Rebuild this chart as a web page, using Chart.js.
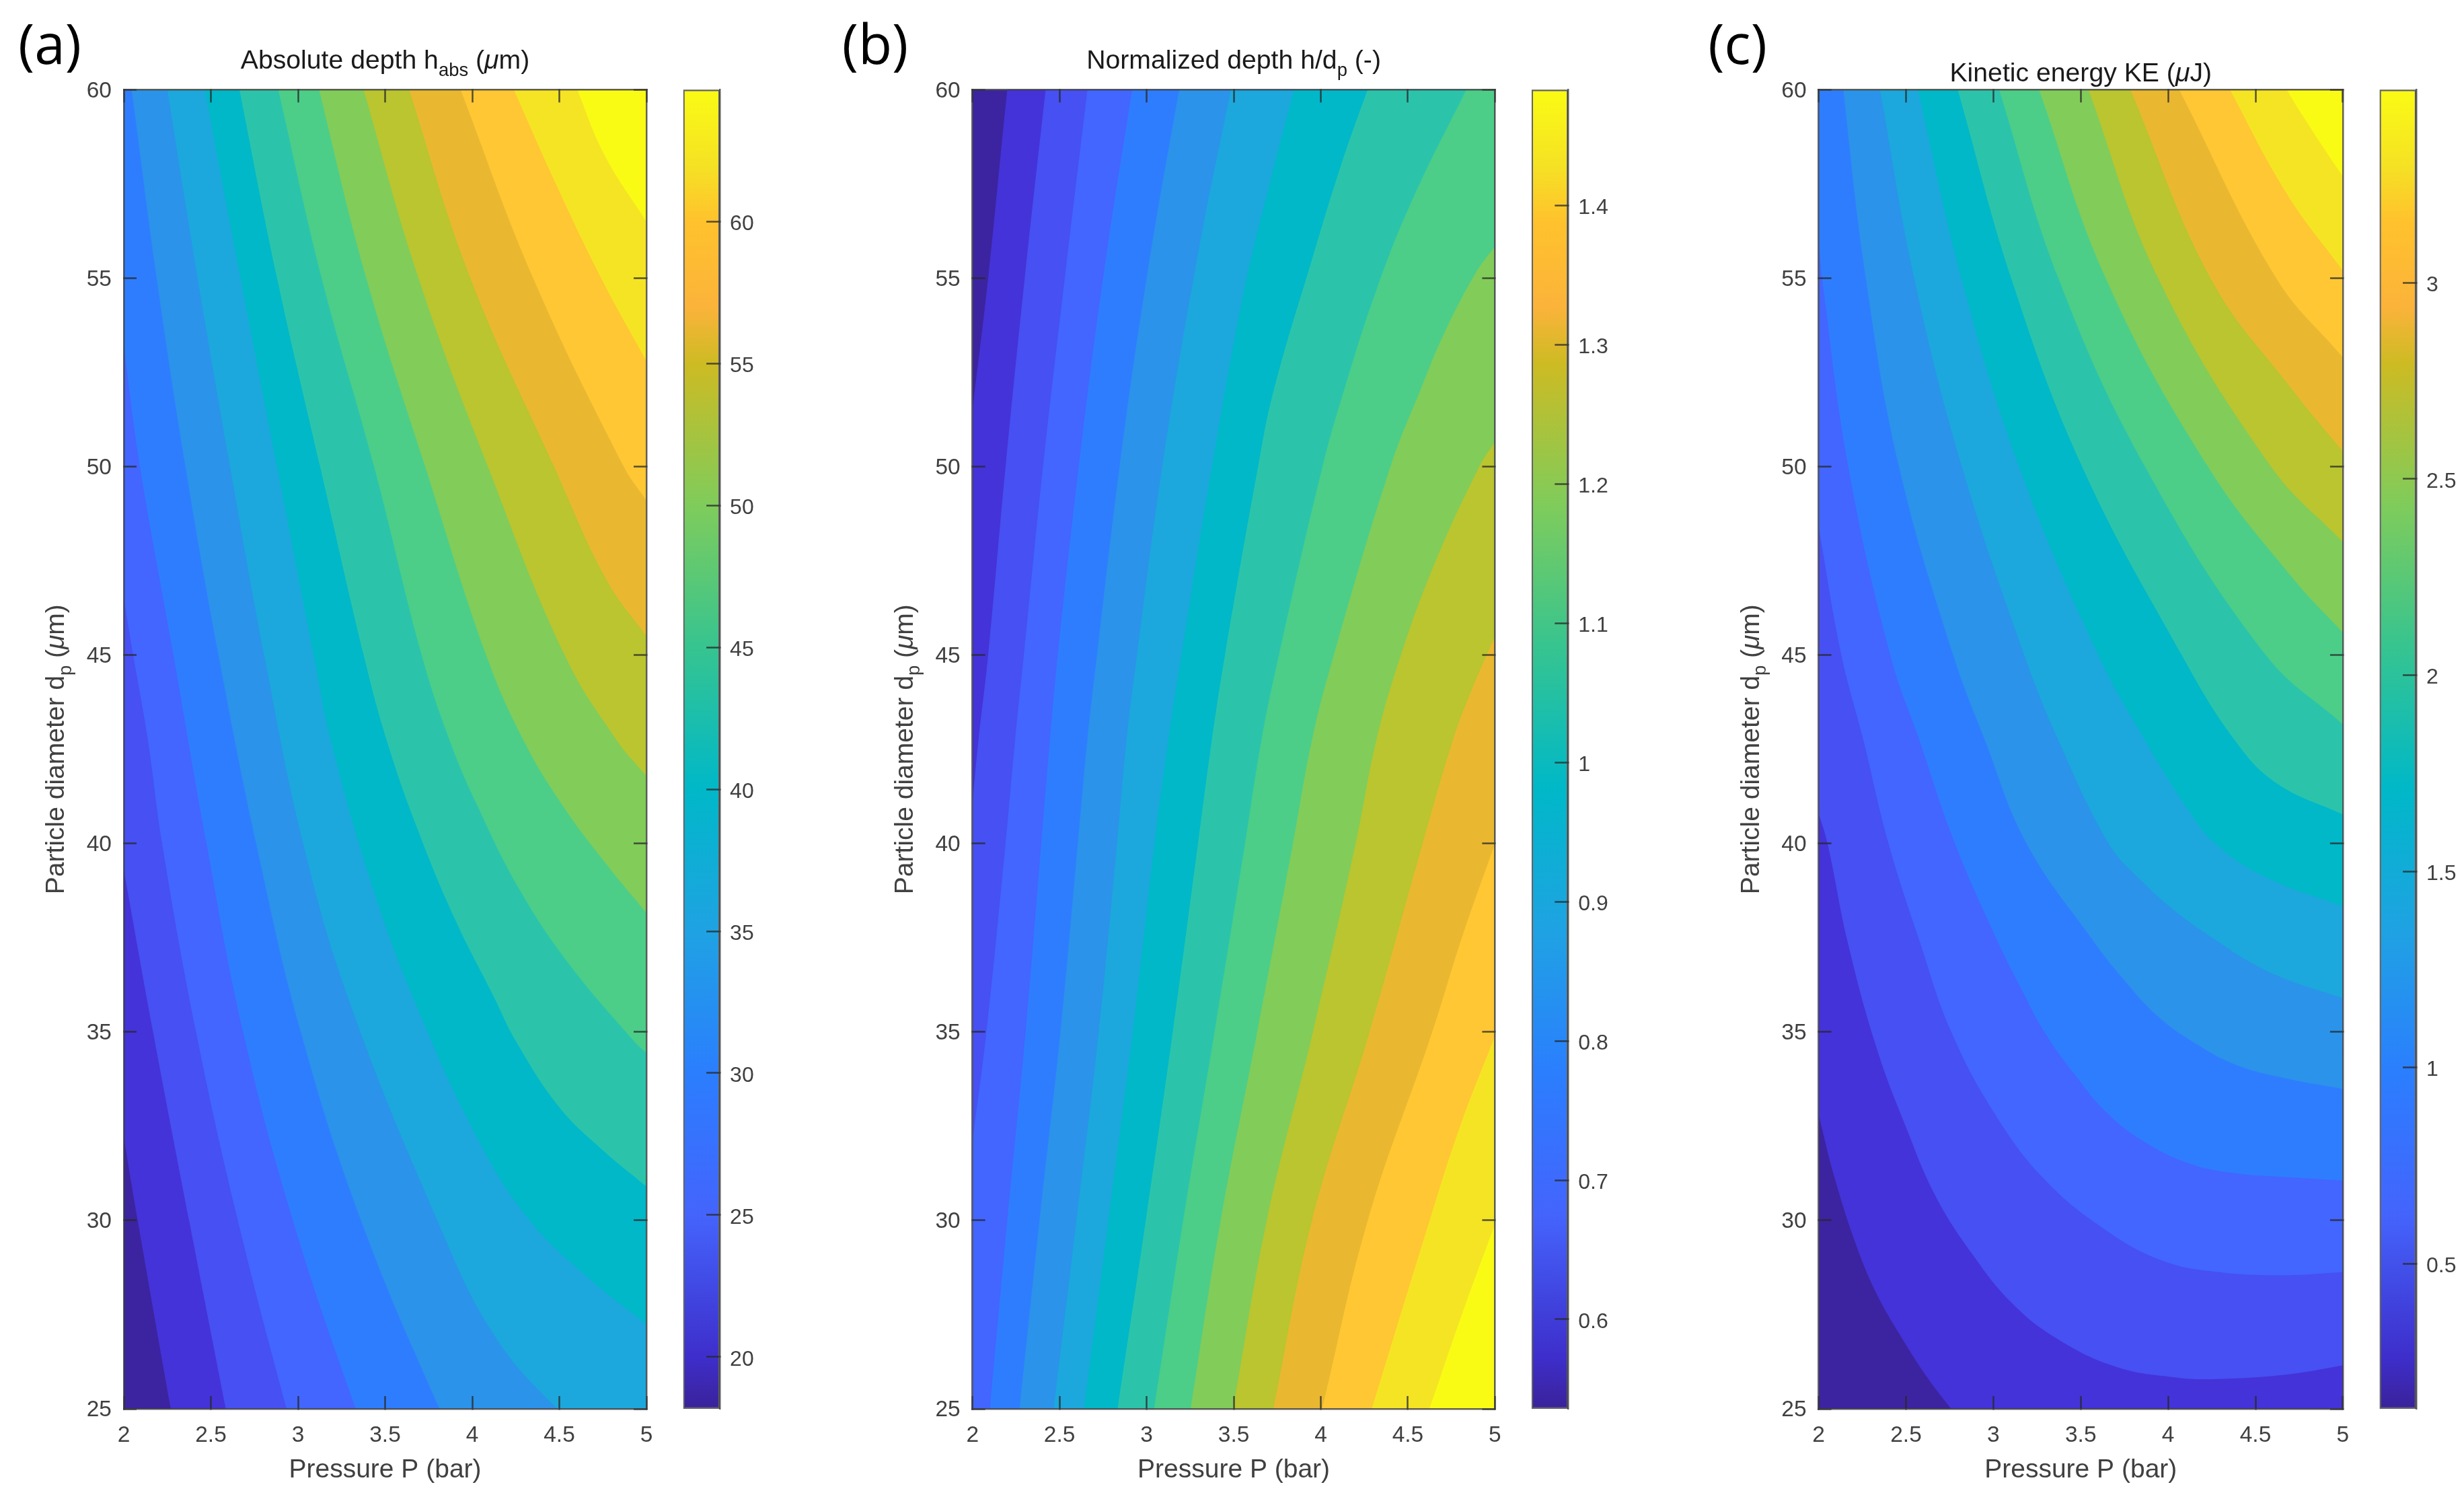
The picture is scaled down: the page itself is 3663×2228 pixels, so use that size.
<!DOCTYPE html>
<html>
<head>
<meta charset="utf-8">
<title>Contour maps</title>
<style>
html,body{margin:0;padding:0;background:#fff;width:3663px;height:2228px;overflow:hidden}
canvas{position:absolute;top:0;filter:blur(0.7px)}
</style>
<script src="https://cdn.jsdelivr.net/npm/chart.js@4/dist/chart.umd.min.js"></script>
</head>
<body>
<script>
/* ---------- axes ---------- */
const pressureRange = [2, 5];
const diameterRange = [25, 60];
const rangeA = [18.17, 64.65];
const rangeB = [0.5357, 1.4833];
const rangeC = [0.130, 3.492];

/* ---------- contour lines, [pressure, diameter], lowest level first ---------- */
const contoursA = [
 [[2,32.2],[2.08,30],[2.27,25],[2.35,23],[5,10]],
 [[2,39.3],[2.168,35],[2.375,30],[2.586,25],[2.67,23],[5,10]],
 [[2,46.5],[2.054,45],[2.138,42.76],[2.22,40],[2.415,35],[2.655,30],[2.935,25],[3.06,23],[5,10]],
 [[2,53.2],[2.093,50],[2.285,45],[2.475,40],[2.685,35],[2.971,30],[3.332,25],[3.5,23],[5,10]],
 [[2,61.5],[2.045,60],[2.189,55],[2.354,50],[2.544,45],[2.76,40],[3.016,35],[3.362,30],[3.813,25],[4.03,23],[5,10]],
 [[2,80],[2.18,62],[2.25,60],[2.424,55],[2.61,50],[2.806,45],[3.03,40],[3.297,35.78],[3.8,30],[4.12,27],[4.49,25],[5,23]],
 [[2,80],[2.39,62],[2.466,60],[2.67,55],[2.88,50],[3.09,45],[3.187,42.76],[3.426,38.87],[3.683,35.66],[4.05,32],[4.33,30],[4.66,28.5],[5,27.24]],
 [[2,80],[2.58,62],[2.664,60],[2.88,55],[3.127,50],[3.377,45],[3.509,42.74],[3.683,40.42],[3.902,37.98],[4.121,35.96],[4.256,34.71],[4.5,33],[4.74,31.9],[5,30.9]],
 [[2,80],[2.79,62],[2.887,60],[3.136,55],[3.437,50],[3.71,45],[3.87,42.74],[4.03,41],[4.275,38.75],[4.558,36.79],[4.931,34.74],[5,34.44]],
 [[2,80],[3.02,62],[3.121,60],[3.392,55],[3.73,50],[4.08,45],[4.294,42.74],[4.52,41],[4.777,39.41],[5,38.16]],
 [[2,80],[3.26,62],[3.377,60],[3.692,55],[4.09,50],[4.53,45],[4.829,42.74],[5,41.79]],
 [[2,80],[3.51,62],[3.638,60],[3.99,55],[4.47,50],[4.77,47],[5,45.5]],
 [[2,80],[3.77,62],[3.933,60],[4.35,55],[4.87,50],[5,49.1]],
 [[2,80],[4.05,62],[4.239,60],[4.48,57.5],[4.74,55],[5,52.8]],
 [[2,80],[4.43,62],[4.603,60],[4.76,58.26],[5,56.5]]
];
const contoursB = [
 [[2,51.5],[2.09,55],[2.2,60],[2.25,62],[5,80]],
 [[2,41.1],[2.035,42.76],[2.09,45],[2.19,50],[2.3,55],[2.42,60],[2.47,62],[5,80]],
 [[2,32.1],[2.08,35],[2.19,40],[2.245,42.76],[2.295,45],[2.405,50],[2.53,55],[2.66,60],[2.71,62],[5,80]],
 [[2.1,25],[2.2,30],[2.305,35],[2.395,40],[2.445,42.76],[2.49,45],[2.61,50],[2.75,55],[2.917,60],[2.99,62],[5,80]],
 [[2.27,25],[2.385,30],[2.505,35],[2.605,40],[2.66,42.76],[2.715,45],[2.845,50],[3,55],[3.187,60],[3.27,62],[5,80]],
 [[2.466,25],[2.597,30],[2.725,35],[2.83,40],[2.885,42.76],[2.945,45],[3.09,50],[3.291,55.54],[3.484,60],[3.575,62],[5,80]],
 [[2.64,25],[2.78,30],[2.92,35],[3.045,40],[3.125,42.76],[3.2,45],[3.375,50],[3.561,54.71],[3.716,57.68],[3.847,60],[3.97,62],[5,80]],
 [[2.833,25],[2.995,30],[3.15,35],[3.295,40],[3.375,42.76],[3.45,45],[3.64,50],[3.73,52.03],[3.96,55.66],[4.115,57.98],[4.269,60],[4.43,62],[5,80]],
 [[3.043,25],[3.21,30],[3.39,35],[3.565,40],[3.66,42.76],[3.76,45],[4.01,50],[4.134,52.03],[4.321,54.71],[4.527,57.09],[4.836,60],[5,61.5]],
 [[3.253,25],[3.425,30],[3.635,35],[3.84,40],[3.95,42.76],[4.075,45],[4.4,50],[4.572,52.03],[4.707,53.52],[4.887,55.12],[5,55.84]],
 [[3.497,25],[3.69,30],[3.955,35],[4.2,40],[4.32,42.76],[4.46,45],[4.66,47.5],[4.91,50],[5,50.65]],
 [[3.728,25],[3.95,30],[4.28,35],[4.585,40],[4.76,42.76],[4.86,44],[5,45.5]],
 [[4.008,25],[4.27,30],[4.64,35],[4.81,37.5],[5,40]],
 [[4.293,25],[4.625,30],[4.8,32.5],[5,34.9]],
 [[4.624,25],[4.81,27.5],[5,29.9]]
];
const contoursC = [
 [[2,32.8],[2.089,31.17],[2.209,29.42],[2.33,28.07],[2.467,26.95],[2.622,25.83],[2.759,25],[2.9,24.2],[5,12]],
 [[2,40.8],[2.051,40],[2.166,37.39],[2.33,34.6],[2.502,32.45],[2.673,30.61],[2.88,29.1],[3.103,27.82],[3.361,26.87],[3.705,26.11],[4.048,25.83],[4.272,25.79],[4.681,25.91],[5,26.15]],
 [[2,48.4],[2.13,45],[2.255,42.76],[2.4,40],[2.579,37.39],[2.759,35],[3.017,32.76],[3.292,31.09],[3.619,29.82],[3.962,28.94],[4.306,28.62],[4.681,28.55],[5,28.63]],
 [[2,56],[2.02,55],[2.17,50],[2.41,45],[2.575,42.76],[2.78,40],[3.026,37.39],[3.155,36.19],[3.292,35],[3.464,33.88],[3.653,32.84],[3.876,32.05],[4.134,31.49],[4.392,31.25],[4.681,31.15],[5,31.06]],
 [[2,70],[2.1,62],[2.141,60],[2.27,55],[2.46,50],[2.77,45],[2.95,42.76],[3.19,40],[3.576,37.39],[3.739,36.43],[3.928,35.47],[4.134,34.76],[4.392,34.12],[4.681,33.76],[5,33.49]],
 [[2,80],[2.27,62],[2.351,60],[2.547,55],[2.82,50],[3.177,45],[3.37,42.76],[3.66,40],[3.85,39],[4.07,38.1],[4.289,37.39],[4.478,36.83],[4.681,36.39],[5,35.9]],
 [[2,80],[2.47,62],[2.568,60],[2.817,55],[3.147,50],[3.6,45],[3.865,42.76],[4.1,41],[4.27,40],[4.56,39.1],[5,38.33]],
 [[2,80],[2.67,62],[2.796,60],[3.102,55],[3.508,50],[4.078,45],[4.378,42.76],[4.62,41.6],[5,40.77]],
 [[2,80],[2.9,62],[3.033,60],[3.372,55],[3.868,50],[4.559,45],[5,43.16]],
 [[2,80],[3.11,62],[3.261,60],[3.643,55],[4.228,50],[4.72,47],[5,45.6]],
 [[2,80],[3.39,62],[3.544,60],[3.943,55],[4.589,50],[5,48]],
 [[2,80],[3.6,62],[3.784,60],[4.243,55],[4.7,52.1],[5,50.4]],
 [[2,80],[3.84,62],[4.063,60],[4.619,55],[5,52.9]],
 [[2,80],[4.13,62],[4.354,60],[4.679,57.24],[5,55.2]],
 [[2,80],[4.44,62],[4.679,60],[4.844,58.78],[5,57.7]]
];

/* ---------- colours ---------- */
const bandColors = ['#3C24A0','#4433D8','#4750F2','#4266FF','#2F7DFF','#2B93EA','#1CA8DC','#00B8C8',
                    '#2BC4AB','#4CCE88','#82CC5A','#BAC52F','#E9B830','#FFC733','#F5E424','#F9FB15'];
const colorbarStops = [[0,'#3A2299'],[0.039,'#3E2ECB'],[0.147,'#4464FC'],[0.2545,'#2B7EFE'],[0.362,'#1FA2E3'],
                       [0.47,'#00B8C8'],[0.577,'#36C490'],[0.685,'#7FCC5B'],[0.792,'#CDBB23'],[0.835,'#FBB33A'],
                       [0.9,'#FFC22D'],[0.943,'#F5E224'],[1,'#FAFB14']];

const SANS = '"Liberation Sans", Arial, sans-serif';
const TICK_FONT = 33.5, CBAR_FONT = 32, LABEL_FONT = 39, TITLE_FONT = 39.2;
const TEXT = '#404040', LINE = 'rgba(60,60,60,0.8)', TICK = 'rgba(40,40,40,0.78)';
const MU = '\u03BC';

function numberLabel(v){ return String(+Number(v).toFixed(2)); }

function nudgeLabels(s, dy){
  if(s._nudged) return;
  s._nudged = true;
  const orig = s._computeLabelItems.bind(s);
  s._computeLabelItems = a => orig(a).map(it => { it.textOffset += dy; return it; });
}

function richPlugin(items){
  return { id:'richText', afterDraw(chart){
    const c = chart.ctx;
    items.forEach(it=>{
      c.save();
      c.translate(it.x, it.y);
      if(it.rotate) c.rotate(it.rotate);
      c.fillStyle = it.color || '#1a1a1a';
      c.textBaseline = 'alphabetic';
      c.textAlign = 'left';
      const fam = it.family || SANS, size = it.size || LABEL_FONT;
      const fontOf = r => (r.italic?'italic ':'') + (r.sub? size*0.7 : size) + 'px ' + fam;
      let total = 0;
      it.runs.forEach(r=>{ c.font = fontOf(r); total += c.measureText(r.t).width; });
      let x = -total/2;
      it.runs.forEach(r=>{
        c.font = fontOf(r);
        c.fillText(r.t, x, r.sub ? size*0.27 : 0);
        x += c.measureText(r.t).width;
      });
      c.restore();
    });
  }};
}

function contourDatasets(lines, direction){
  const sets = [{ data:[{x:pressureRange[0],y:diameterRange[1]},{x:pressureRange[1],y:diameterRange[1]}],
                  fill:'start', backgroundColor:bandColors[0], order:lines.length+1 }];
  lines.forEach((line,i)=>{
    sets.push({ data: line.map(p=>({x:p[0],y:p[1]})), fill:direction, backgroundColor:bandColors[i+1], order:lines.length-i });
  });
  return sets.map(s=>Object.assign(s,{ showLine:true, pointRadius:0, borderWidth:0, borderColor:'transparent',
     tension:0.4, capBezierPoints:false, clip:false }));
}

function frameScale(axis, position, range, step, withLabels, size, extra){
  return Object.assign({
    type:'linear', axis, position, min:range[0], max:range[1],
    border:{display:true,color:LINE,width:2.5,z:2},
    grid:{drawOnChartArea:false,drawTicks:true,tickLength:-19,tickColor:TICK,tickWidth:2.5,z:1},
    ticks:{display:withLabels,stepSize:step,autoSkip:false,maxRotation:0,minRotation:0,color:TEXT,
           font:{family:SANS,size:TICK_FONT},padding:axis==='x'?39:37,callback:numberLabel},
    afterFit(s){
      if(axis==='x') s.height=size; else { s.width=size; nudgeLabels(s,2); }
      s.paddingLeft=s.paddingRight=s.paddingTop=s.paddingBottom=0;
    }
  },extra||{});
}

const PLOT_TOP = 133.3, PLOT_BOTTOM = 2094, PAGE_H = 2228;

function panel(cfg){
  const cv = document.createElement('canvas');
  cv.width = cfg.width; cv.height = PAGE_H; cv.style.left = cfg.left+'px';
  cv.style.width = cfg.width+'px'; cv.style.height = PAGE_H+'px';
  document.body.appendChild(cv);
  const plotL = cfg.plotLeft-cfg.left, plotR = cfg.plotRight-cfg.left, cx=(plotL+plotR)/2;
  const yW = 140, xH = 115;
  new Chart(cv,{
    type:'scatter',
    data:{datasets:contourDatasets(cfg.lines,cfg.direction)},
    options:{
      responsive:false, animation:false, devicePixelRatio:1,
      layout:{padding:{left:plotL-yW,right:cfg.width-plotR,top:PLOT_TOP,bottom:PAGE_H-PLOT_BOTTOM-xH}},
      plugins:{legend:{display:false},tooltip:{enabled:false}},
      scales:{
        x:frameScale('x','bottom',pressureRange,0.5,true,xH,{
          title:{display:true,text:'Pressure P (bar)',color:TEXT,font:{family:SANS,size:LABEL_FONT},padding:0}}),
        y:frameScale('y','left',diameterRange,5,true,yW),
        x2:frameScale('x','top',pressureRange,0.5,false,0),
        y2:frameScale('y','right',diameterRange,5,false,0)
      }
    },
    plugins:[richPlugin([
      {x:cx,y:cfg.titleY,size:TITLE_FONT,runs:cfg.title},
      {x:plotL-89,y:PLOT_TOP+(PLOT_BOTTOM-PLOT_TOP)/2,rotate:-Math.PI/2,color:TEXT,runs:[
        {t:'Particle diameter d'},{t:'p',sub:true},{t:' ('},{t:MU,italic:true},{t:'m)'}]},
      {x:cfg.tagX-cfg.left,y:95,size:82,color:'#000',family:'"Open Sans", sans-serif',runs:[{t:cfg.tag}]}
    ])]
  });
}

function colorbar(cfg){
  const cv = document.createElement('canvas');
  const W = 150;
  const left = Math.floor(cfg.barLeft-15);
  cv.width = W; cv.height = PAGE_H; cv.style.left = left+'px';
  cv.style.width = W+'px'; cv.style.height = PAGE_H+'px';
  document.body.appendChild(cv);
  const barL = cfg.barLeft-left, scaleW = 80;
  new Chart(cv,{
    type:'bar',
    data:{labels:[''],datasets:[{
      data:[cfg.range],
      barPercentage:1,categoryPercentage:1,borderWidth:2.5,borderColor:LINE,borderSkipped:false,
      backgroundColor(ctx){
        const a = ctx.chart.chartArea;
        if(!a) return bandColors[0];
        const g = ctx.chart.ctx.createLinearGradient(0,a.bottom,0,a.top);
        colorbarStops.forEach(s=>g.addColorStop(s[0],s[1]));
        return g;
      }
    }]},
    options:{
      responsive:false,animation:false,devicePixelRatio:1,
      layout:{padding:{left:barL,right:W-barL-cfg.barWidth-scaleW,top:PLOT_TOP,bottom:PAGE_H-PLOT_BOTTOM}},
      plugins:{legend:{display:false},tooltip:{enabled:false}},
      scales:{
        x:{display:false,afterFit(s){s.height=0;s.paddingLeft=s.paddingRight=0;}},
        y:{type:'linear',position:'right',min:cfg.range[0],max:cfg.range[1],
           border:{display:true,color:LINE,width:2.5,z:2},
           grid:{drawOnChartArea:false,drawTicks:true,tickLength:-20,tickColor:TICK,tickWidth:2.5,z:1},
           ticks:{stepSize:cfg.step,includeBounds:false,autoSkip:false,color:TEXT,padding:35,
                  font:{family:SANS,size:CBAR_FONT},callback:numberLabel},
           afterFit(s){s.width=scaleW;s.paddingTop=s.paddingBottom=0;nudgeLabels(s,4);}}
      }
    }
  });
}

panel({left:0,width:1000,plotLeft:184,plotRight:961,lines:contoursA,direction:'end',titleY:102,tag:'(a)',tagX:74,
  title:[{t:'Absolute depth h'},{t:'abs',sub:true},{t:' ('},{t:MU,italic:true},{t:'m)'}]});
panel({left:1240,width:1022,plotLeft:1445.7,plotRight:2222.4,lines:contoursB,direction:'start',titleY:102,tag:'(b)',tagX:1301,
  title:[{t:'Normalized depth h/d'},{t:'p',sub:true},{t:' (-)'}]});
panel({left:2500,width:1022,plotLeft:2703.6,plotRight:3482.9,lines:contoursC,direction:'end',titleY:121,tag:'(c)',tagX:2583,
  title:[{t:'Kinetic energy KE ('},{t:MU,italic:true},{t:'J)'}]});

colorbar({barLeft:1015.6,barWidth:54.5,range:rangeA,step:5});
colorbar({barLeft:2276.8,barWidth:54.5,range:rangeB,step:0.1});
colorbar({barLeft:3537.5,barWidth:54.5,range:rangeC,step:0.5});
</script>
</body>
</html>
